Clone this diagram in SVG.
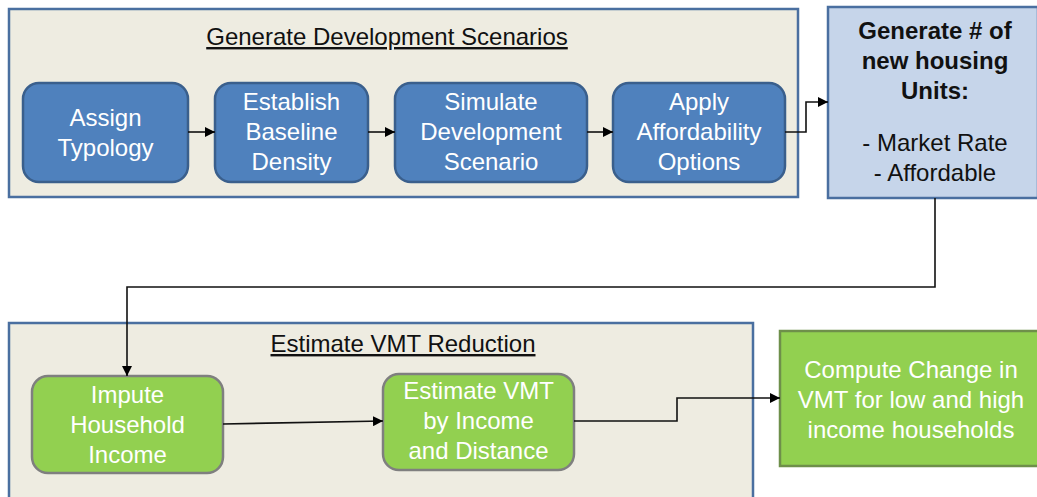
<svg xmlns="http://www.w3.org/2000/svg" width="1037" height="497" viewBox="0 0 1037 497">
<defs>
<marker id="ah" viewBox="0 0 10 10" refX="10" refY="5" markerWidth="10" markerHeight="10" markerUnits="userSpaceOnUse" orient="auto">
<path d="M0,0 L10,5 L0,10 z" fill="#000"/>
</marker>
</defs>
<style>
.cont{fill:#eeece1;stroke:#4a6fa0;stroke-width:2.5}
.blue{fill:#4f81bd;stroke:#3a5f8c;stroke-width:2.5}
.green{fill:#92d050;stroke:#7f7f7f;stroke-width:2.5}
.gen{fill:#c6d5ea;stroke:#4a6fa0;stroke-width:2.5}
.t{font-family:"Liberation Sans",Arial,sans-serif;font-size:24px;text-anchor:middle}
.w{fill:#fff}
.k{fill:#111}
.b{font-weight:bold}
.title{font-family:"Liberation Sans",Arial,sans-serif;font-size:24px;text-anchor:middle;fill:#111;text-decoration:underline}
.c{fill:none;stroke:#111;stroke-width:1.6}
</style>
<g id="container-top">
<rect class="cont" x="9" y="9" width="789" height="188"/>
<text class="title" x="387" y="45">Generate Development Scenarios</text>
</g>
<g id="container-bottom">
<rect class="cont" x="9" y="323" width="744" height="190"/>
<text class="title" x="403" y="352">Estimate VMT Reduction</text>
</g>
<g id="assign">
<rect class="blue" x="23" y="83" width="165" height="99" rx="16"/>
<text class="t w" x="105.5" y="126">Assign</text>
<text class="t w" x="105.5" y="156">Typology</text>
</g>
<g id="establish">
<rect class="blue" x="215" y="83" width="153" height="99" rx="16"/>
<text class="t w" x="291.5" y="110">Establish</text>
<text class="t w" x="291.5" y="140">Baseline</text>
<text class="t w" x="291.5" y="170">Density</text>
</g>
<g id="simulate">
<rect class="blue" x="395" y="83" width="192" height="99" rx="16"/>
<text class="t w" x="491" y="110">Simulate</text>
<text class="t w" x="491" y="140">Development</text>
<text class="t w" x="491" y="170">Scenario</text>
</g>
<g id="apply">
<rect class="blue" x="613" y="83" width="172" height="99" rx="16"/>
<text class="t w" x="699" y="110">Apply</text>
<text class="t w" x="699" y="140">Affordability</text>
<text class="t w" x="699" y="170">Options</text>
</g>
<g id="generate-units">
<rect class="gen" x="828" y="7" width="210" height="191"/>
<text class="t k b" x="935" y="39">Generate # of</text>
<text class="t k b" x="935" y="69">new housing</text>
<text class="t k b" x="935" y="99">Units:</text>
<text class="t k" x="935" y="151">- Market Rate</text>
<text class="t k" x="935" y="181">- Affordable</text>
</g>
<g id="impute">
<rect class="green" x="32" y="376" width="191" height="97" rx="16"/>
<text class="t w" x="127.5" y="403">Impute</text>
<text class="t w" x="127.5" y="433">Household</text>
<text class="t w" x="127.5" y="463">Income</text>
</g>
<g id="estimate">
<rect class="green" x="383" y="374" width="191" height="96" rx="16"/>
<text class="t w" x="478.5" y="399">Estimate VMT</text>
<text class="t w" x="478.5" y="429">by Income</text>
<text class="t w" x="478.5" y="459">and Distance</text>
</g>
<g id="compute">
<rect class="green" x="780" y="331" width="260" height="135" style="stroke:#6e8f4a"/>
<text class="t w" x="911" y="378">Compute Change in</text>
<text class="t w" x="911" y="408">VMT for low and high</text>
<text class="t w" x="911" y="438">income households</text>
</g>
<g id="connectors">
<path class="c" d="M188,132 L215,132" marker-end="url(#ah)"/>
<path class="c" d="M368,132 L395,132" marker-end="url(#ah)"/>
<path class="c" d="M587,132 L613,132" marker-end="url(#ah)"/>
<path class="c" d="M785,132 L806,132 L806,102 L828,102" marker-end="url(#ah)"/>
<path class="c" d="M935,198 L935,287 L127,287 L127,376" marker-end="url(#ah)"/>
<path class="c" d="M223,424 L383,421" marker-end="url(#ah)"/>
<path class="c" d="M574,421 L677,421 L677,398 L780,398" marker-end="url(#ah)"/>
</g>
</svg>
